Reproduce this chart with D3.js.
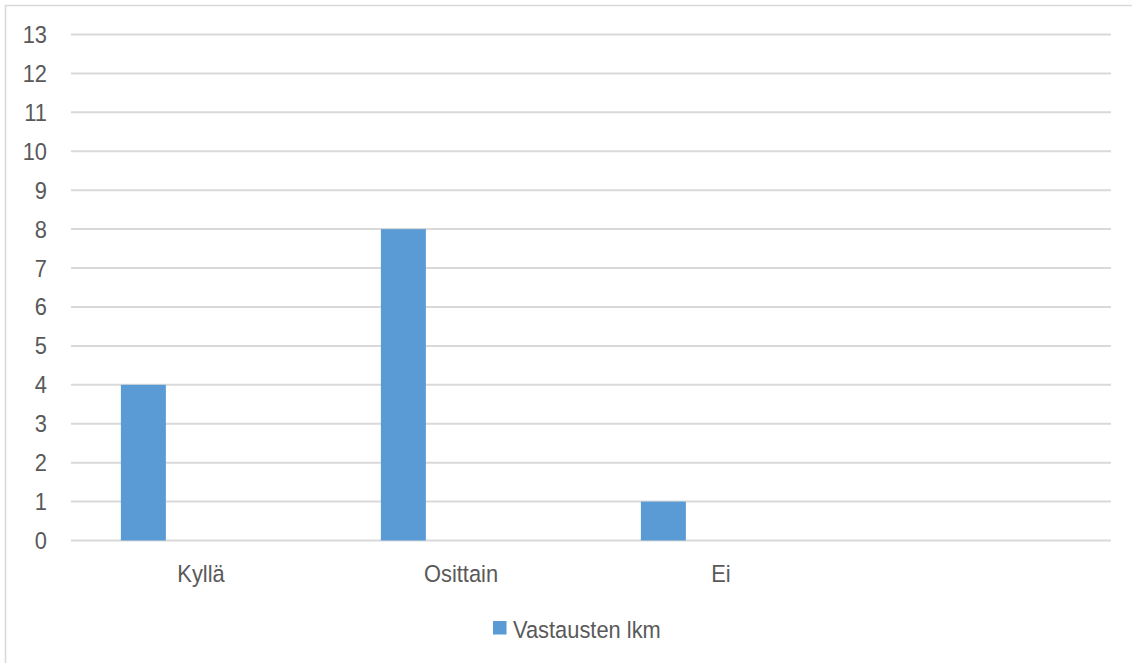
<!DOCTYPE html>
<html>
<head>
<meta charset="utf-8">
<script src="https://cdn.jsdelivr.net/npm/d3@7"></script>
<style>
  html, body { margin: 0; padding: 0; background: #fff; }
  svg { display: block; }
  text { font-family: "Liberation Sans", Arial, sans-serif; fill: #595959; }
</style>
</head>
<body>
<svg id="chart" width="1132" height="663"></svg>
<script>
// Survey answers: number of responses per option
const categories = ["Kyllä", "Osittain", "Ei", ""];
const seriesName = "Vastausten lkm";
const values = [4, 8, 1, null];
const yTicks = [0, 1, 2, 3, 4, 5, 6, 7, 8, 9, 10, 11, 12, 13];

const W = 1132, H = 663;
const plot = { left: 71, right: 1111, top: 34.5, bottom: 540.5 };
const fontSize = 23.5, squeeze = 0.93;
const barColor = "#5b9bd5", gridColor = "#d9d9d9";

const svg = d3.select("#chart");

// outer frame
svg.append("rect")
  .attr("x", 5.5).attr("y", 5.5)
  .attr("width", 1200).attr("height", 700)
  .attr("fill", "none").attr("stroke", gridColor).attr("stroke-width", 1.5);

const x = d3.scaleBand().domain(categories).range([plot.left, plot.right]).padding(0);
const y = d3.scaleLinear().domain([0, 13]).range([plot.bottom, plot.top]);

// bar slot within each category
const inner = d3.scaleBand().domain([seriesName]).range([0, x.bandwidth()])
  .paddingOuter(2.39).align(0.232);

// horizontal gridlines
svg.append("g").selectAll("line").data(yTicks).join("line")
  .attr("x1", plot.left).attr("x2", plot.right)
  .attr("y1", d => y(d)).attr("y2", d => y(d))
  .attr("stroke", gridColor).attr("stroke-width", 2);

// narrow text helper
function label(g, tx, ty, str, anchor) {
  g.append("g")
    .attr("transform", `translate(${tx},${ty}) scale(${squeeze},1)`)
    .append("text")
    .attr("text-anchor", anchor)
    .attr("font-size", fontSize)
    .text(str);
}

// y axis labels
const yAxisG = svg.append("g");
yTicks.forEach(t => label(yAxisG, 47, y(t) + 8.5, String(t), "end"));

// bars
const data = categories.map((c, i) => ({ c, v: values[i] })).filter(d => d.v != null);
svg.append("g").selectAll("rect").data(data).join("rect")
  .attr("x", d => x(d.c) + inner(seriesName))
  .attr("width", inner.bandwidth())
  .attr("y", d => y(d.v))
  .attr("height", d => y(0) - y(d.v))
  .attr("fill", barColor);

// category labels
const xAxisG = svg.append("g");
categories.forEach(c => {
  if (c) label(xAxisG, x(c) + x.bandwidth() / 2, 582, c, "middle");
});

// legend
const lg = svg.append("g");
lg.append("rect").attr("x", 493).attr("y", 621).attr("width", 13.5).attr("height", 13.5).attr("fill", barColor);
label(lg, 513, 637.5, seriesName, "start");
</script>
</body>
</html>
